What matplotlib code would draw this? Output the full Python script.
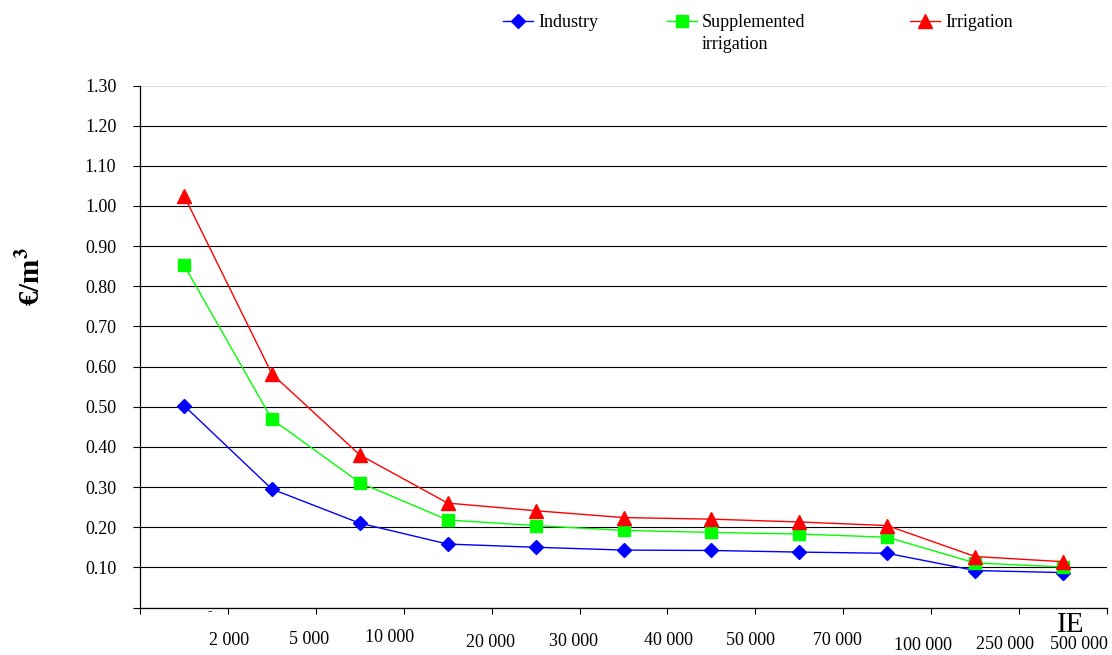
import matplotlib
matplotlib.use("Agg")
import matplotlib.pyplot as plt
from matplotlib.lines import Line2D
from matplotlib.transforms import blended_transform_factory

plt.rcParams["font.family"] = ["Liberation Serif", "DejaVu Serif"]
plt.rcParams["mathtext.fontset"] = "stix"

# Plant size classes (population equivalent) and unit costs in EUR/m3
size_labels = ["2 000", "5 000", "10 000", "20 000", "30 000", "40 000",
               "50 000", "70 000", "100 000", "250 000", "500 000"]
industry = [0.503, 0.295, 0.210, 0.158, 0.150, 0.143, 0.142, 0.138, 0.135, 0.092, 0.087]
supplemented = [0.853, 0.469, 0.311, 0.218, 0.204, 0.192, 0.187, 0.183, 0.175, 0.111, 0.101]
irrigation = [1.026, 0.582, 0.380, 0.260, 0.241, 0.224, 0.220, 0.213, 0.204, 0.127, 0.114]
y_ticks = [i / 10 for i in range(14)]

# label placement below the axis (pixel offsets from each class boundary)
label_dx = [1, -7, -14, -1, -6, 1, -5, -6, -8, -14, -28]
label_dy = [-33, -32, -30, -35, -34, -33, -33, -33, -38, -37, -37]

fig = plt.figure(figsize=(11.12, 6.55), dpi=100)
ax = fig.add_axes([140 / 1112, 1 - 607.5 / 655, 967 / 1112, 522 / 655])

x = list(range(len(size_labels)))
ax.plot(x, industry, color="#0000ff", lw=1.0, marker="D", ms=7,
        mfc="#0000ff", mec="#0000ff", label="Industry", zorder=3)
ax.plot(x, supplemented, color="#00ff00", lw=1.0, marker="s", ms=8.5,
        mfc="#00ff00", mec="#00ff00", label="Supplemented\nirrigation", zorder=3)
ax.plot(x, irrigation, color="#ff0000", lw=1.0, marker="^", ms=9.5,
        mfc="#ff0000", mec="#ff0000", label="Irrigation", zorder=4)

ax.set_xlim(-0.5, len(size_labels) - 0.5)
ax.set_ylim(0, 1.3)

ax.set_yticks(y_ticks)
ax.set_yticklabels([""] + [f"{v:.2f}" for v in y_ticks[1:]])
ax.tick_params(axis="y", direction="out", length=5, width=0.8, pad=12, labelsize=13)
ax.yaxis.grid(True, color="black", lw=0.8)
ax.get_ygridlines()[-1].set_color("#d8d8d8")
ax.set_axisbelow(True)

ax.set_xticks([i - 0.5 for i in range(len(size_labels) + 1)])
ax.set_xticklabels([])
ax.tick_params(axis="x", direction="out", length=4.5, width=0.8)

for side in ("top", "right"):
    ax.spines[side].set_visible(False)
for side in ("left", "bottom"):
    ax.spines[side].set_linewidth(0.9)

trans = blended_transform_factory(ax.transData, ax.transAxes)
for i, lab in enumerate(size_labels):
    ax.annotate(lab, xy=(i + 0.5, 0), xycoords=trans,
                xytext=(label_dx[i], label_dy[i]), textcoords="offset pixels",
                ha="center", va="center", fontsize=13)
ax.annotate("-", xy=(0.5, 0), xycoords=trans, xytext=(-18, -4),
            textcoords="offset pixels", ha="center", va="center",
            fontsize=10, fontweight="bold")
ax.annotate("IE", xy=(len(size_labels) - 0.5, 0), xycoords=trans,
            xytext=(-36, -17), textcoords="offset pixels",
            ha="center", va="center", fontsize=21)

fig.text(32 / 1112, 1 - 277 / 655, r"€/m$^{\mathbf{3}}$", rotation=90,
         ha="center", va="center", fontsize=21, fontweight="bold")

# legend row along the top of the figure
legend_x = [503, 667, 910]
for line, lx in zip(ax.get_lines(), legend_x):
    y = 1 - 21 / 655
    fig.add_artist(Line2D([lx / 1112, (lx + 30) / 1112], [y, y],
                          color=line.get_color(), lw=1.0, transform=fig.transFigure))
    fig.add_artist(Line2D([(lx + 15) / 1112], [y], marker=line.get_marker(),
                          ms=line.get_markersize(), color=line.get_color(),
                          ls="none", transform=fig.transFigure))
    fig.text((lx + 35) / 1112, 1 - 14 / 655, line.get_label(), ha="left",
             va="top", fontsize=13, linespacing=1.4)

fig.savefig("out.png", dpi=100)
